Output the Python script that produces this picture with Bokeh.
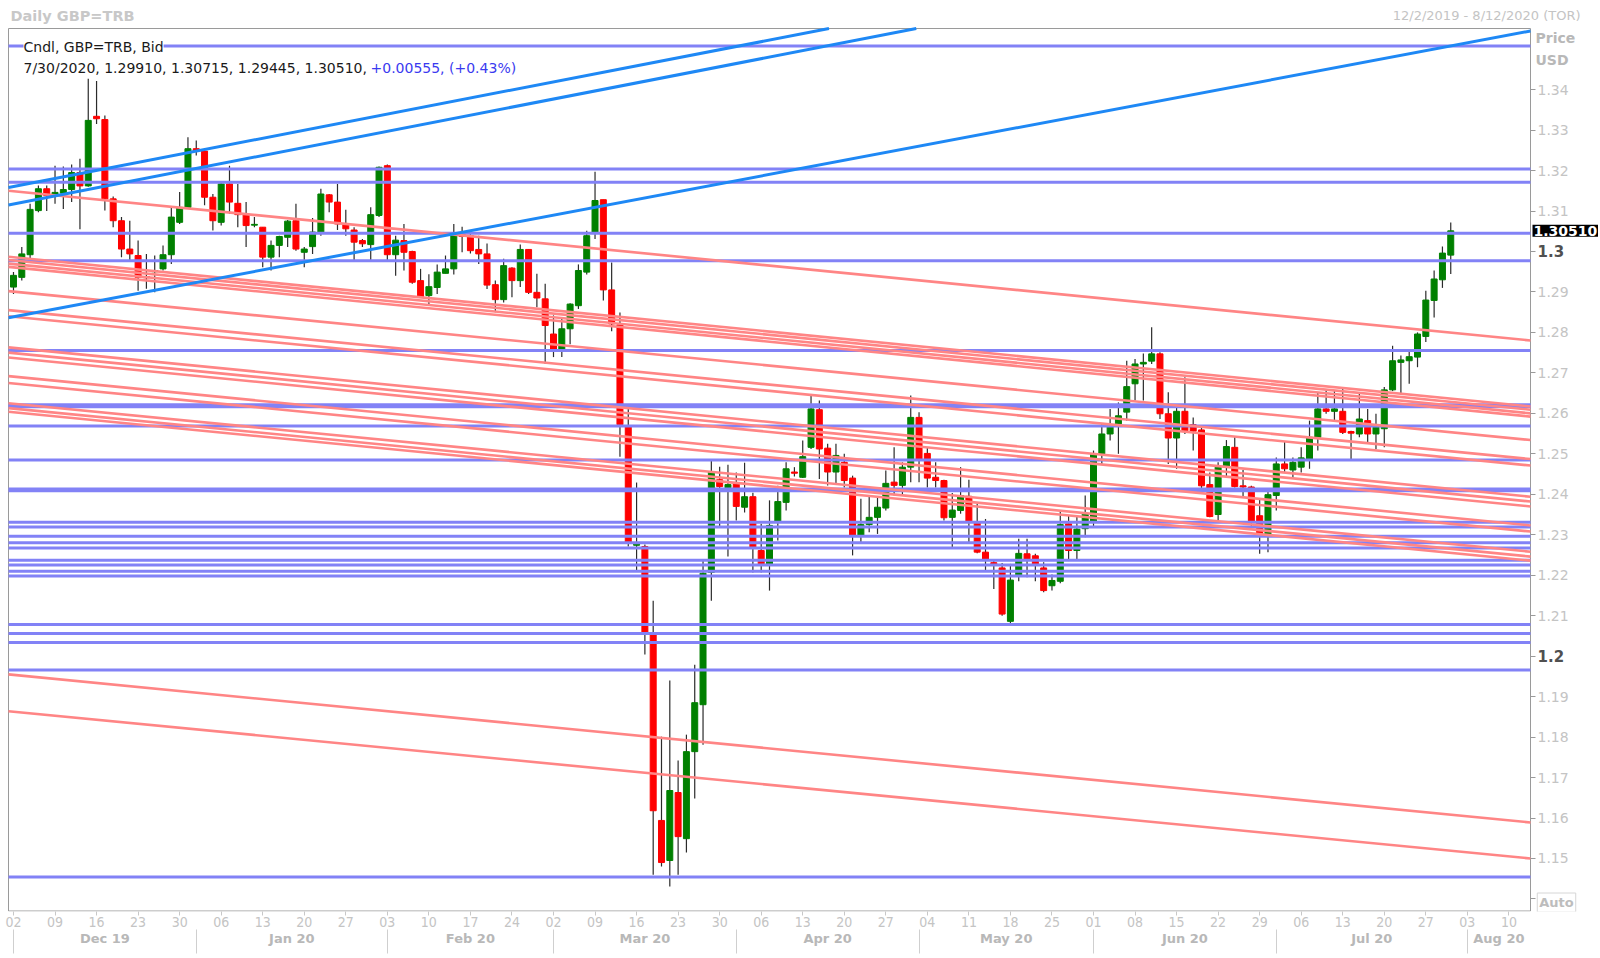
from bokeh.plotting import figure
from bokeh.models import Range1d, FixedTicker, LinearAxis, Label, ColumnDataSource
from bokeh.embed import file_html
from bokeh.resources import INLINE

# ---------------- data (daily GBP=TRB, 2 Dec 2019 .. 30 Jul 2020, one entry per weekday) -------------
opens = [1.2912, 1.2936, 1.2992, 1.3101, 1.3155, 1.3140, 1.3144, 1.3153, 1.3195, 1.3162,
         1.3334, 1.3326, 1.3130, 1.3076, 1.3006, 1.2990, 1.2938, 1.2950, 1.2957, 1.2992,
         1.3072, 1.3109, 1.3254, 1.3248, 1.3134, 1.3072, 1.3167, 1.3119, 1.3093, 1.3065,
         1.3060, 1.2986, 1.3015, 1.3035, 1.3076, 1.2998, 1.3012, 1.3048, 1.3140, 1.3122,
         1.3068, 1.3053, 1.3027, 1.3017, 1.3089, 1.3212, 1.2992, 1.3027, 1.3000, 1.2928,
         1.2891, 1.2911, 1.2946, 1.2957, 1.3043, 1.3039, 1.3005, 1.2994, 1.2918, 1.2881,
         1.2959, 1.2928, 1.3005, 1.2899, 1.2883, 1.2796, 1.2755, 1.2809, 1.2866, 1.2949,
         1.3048, 1.3128, 1.2905, 1.2819, 1.2567, 1.2274, 1.2271, 1.2053, 1.1594, 1.1495,
         1.1663, 1.1549, 1.1764, 1.1880, 1.2207, 1.2436, 1.2416, 1.2429, 1.2368, 1.2394,
         1.2261, 1.2228, 1.2331, 1.2380, 1.2455, 1.2442, 1.2516, 1.2609, 1.2514, 1.2455,
         1.2479, 1.2440, 1.2298, 1.2325, 1.2343, 1.2366, 1.2430, 1.2422, 1.2467, 1.2590,
         1.2501, 1.2442, 1.2434, 1.2343, 1.2360, 1.2395, 1.2331, 1.2257, 1.2231, 1.2218,
         1.2086, 1.2197, 1.2253, 1.2248, 1.2218, 1.2174, 1.2185, 1.2327, 1.2261, 1.2315,
         1.2331, 1.2500, 1.2549, 1.2574, 1.2603, 1.2673, 1.2722, 1.2729, 1.2747, 1.2599,
         1.2539, 1.2605, 1.2572, 1.2559, 1.2424, 1.2350, 1.2467, 1.2516, 1.2421, 1.2418,
         1.2347, 1.2298, 1.2397, 1.2475, 1.2460, 1.2467, 1.2487, 1.2541, 1.2611, 1.2605,
         1.2605, 1.2555, 1.2549, 1.2582, 1.2549, 1.2562, 1.2658, 1.2726, 1.2730, 1.2739,
         1.2790, 1.2879, 1.2930, 1.29910]
highs = [1.2949, 1.3011, 1.3118, 1.3163, 1.3163, 1.3212, 1.3210, 1.3215, 1.3229, 1.3427,
         1.3421, 1.3336, 1.3136, 1.3085, 1.3076, 1.3027, 1.2994, 1.2990, 1.3015, 1.3109,
         1.3147, 1.3282, 1.3274, 1.3256, 1.3142, 1.3169, 1.3212, 1.3167, 1.3122, 1.3085,
         1.3060, 1.3027, 1.3039, 1.3078, 1.3118, 1.3011, 1.3083, 1.3155, 1.3142, 1.3167,
         1.3103, 1.3060, 1.3031, 1.3109, 1.3210, 1.3215, 1.3039, 1.3068, 1.3002, 1.2957,
         1.2944, 1.2968, 1.2990, 1.3068, 1.3061, 1.3052, 1.3039, 1.3020, 1.2928, 1.2982,
         1.2961, 1.3017, 1.3006, 1.2945, 1.2920, 1.2842, 1.2837, 1.2872, 1.2968, 1.3051,
         1.3197, 1.3128, 1.2973, 1.2849, 1.2612, 1.2429, 1.2276, 1.2137, 1.1801, 1.1940,
         1.1742, 1.1806, 1.1979, 1.2236, 1.2483, 1.2468, 1.2473, 1.2454, 1.2478, 1.2404,
         1.2327, 1.2385, 1.2421, 1.2479, 1.2467, 1.2533, 1.2648, 1.2632, 1.2525, 1.2525,
         1.2500, 1.2446, 1.2389, 1.2393, 1.2393, 1.2459, 1.2516, 1.2479, 1.2644, 1.2603,
         1.2516, 1.2479, 1.2436, 1.2403, 1.2467, 1.2436, 1.2376, 1.2339, 1.2240, 1.2230,
         1.2228, 1.2290, 1.2290, 1.2253, 1.2232, 1.2202, 1.2360, 1.2347, 1.2347, 1.2397,
         1.2508, 1.2574, 1.2611, 1.2627, 1.2730, 1.2734, 1.2748, 1.2813, 1.2751, 1.2652,
         1.2615, 1.2689, 1.2590, 1.2566, 1.2454, 1.2479, 1.2534, 1.2542, 1.2460, 1.2421,
         1.2388, 1.2409, 1.2491, 1.2531, 1.2491, 1.2516, 1.2582, 1.2652, 1.2656, 1.2656,
         1.2664, 1.2557, 1.2652, 1.2611, 1.2599, 1.2665, 1.2767, 1.2743, 1.2759, 1.2800,
         1.2903, 1.2953, 1.3012, 1.30715]
lows = [1.2895, 1.2928, 1.2982, 1.3097, 1.3100, 1.3118, 1.3105, 1.3122, 1.3055, 1.3160,
        1.3315, 1.3101, 1.3060, 1.2986, 1.2978, 1.2903, 1.2908, 1.2899, 1.2953, 1.2969,
        1.3068, 1.3105, 1.3237, 1.3114, 1.3052, 1.3064, 1.3093, 1.3060, 1.3011, 1.3060,
        1.2961, 1.2953, 1.2986, 1.3011, 1.3002, 1.2961, 1.2994, 1.3039, 1.3097, 1.3053,
        1.3039, 1.2978, 1.3011, 1.2978, 1.3085, 1.2978, 1.2940, 1.2953, 1.2920, 1.2887,
        1.2870, 1.2895, 1.2946, 1.2943, 1.2998, 1.2995, 1.2969, 1.2907, 1.2850, 1.2874,
        1.2887, 1.2912, 1.2895, 1.2862, 1.2722, 1.2739, 1.2739, 1.2771, 1.2858, 1.2943,
        1.3031, 1.2879, 1.2803, 1.2493, 1.2271, 1.2211, 1.2004, 1.1460, 1.1480, 1.1431,
        1.1460, 1.1515, 1.1648, 1.1781, 1.2137, 1.2320, 1.2246, 1.2335, 1.2355, 1.2207,
        1.2207, 1.2162, 1.2286, 1.2360, 1.2444, 1.2440, 1.2512, 1.2438, 1.2422, 1.2426,
        1.2417, 1.2249, 1.2281, 1.2306, 1.2302, 1.2360, 1.2397, 1.2397, 1.2430, 1.2430,
        1.2417, 1.2417, 1.2335, 1.2269, 1.2352, 1.2282, 1.2254, 1.2212, 1.2166, 1.2100,
        1.2078, 1.2185, 1.2195, 1.2185, 1.2158, 1.2162, 1.2180, 1.2235, 1.2237, 1.2294,
        1.2319, 1.2475, 1.2533, 1.2500, 1.2582, 1.2632, 1.2632, 1.2722, 1.2586, 1.2475,
        1.2463, 1.2549, 1.2508, 1.2413, 1.2343, 1.2335, 1.2442, 1.2417, 1.2393, 1.2318,
        1.2253, 1.2257, 1.2360, 1.2455, 1.2438, 1.2454, 1.2463, 1.2508, 1.2599, 1.2582,
        1.2549, 1.2487, 1.2541, 1.2525, 1.2512, 1.2516, 1.2655, 1.2650, 1.2673, 1.2714,
        1.2776, 1.2837, 1.2910, 1.29445]
closes = [1.2941, 1.2994, 1.3104, 1.3155, 1.3138, 1.3146, 1.3153, 1.3195, 1.3162, 1.3324,
          1.3328, 1.3130, 1.3076, 1.3006, 1.2994, 1.2936, 1.2935, 1.2953, 1.2992, 1.3085,
          1.3109, 1.3254, 1.3248, 1.3134, 1.3076, 1.3167, 1.3122, 1.3091, 1.3064, 1.3067,
          1.2986, 1.3015, 1.3037, 1.3075, 1.3006, 1.3006, 1.3048, 1.3142, 1.3122, 1.3068,
          1.3056, 1.3023, 1.3019, 1.3091, 1.3208, 1.2992, 1.3028, 1.2998, 1.2924, 1.2888,
          1.2913, 1.2949, 1.2957, 1.3043, 1.3037, 1.3002, 1.2994, 1.2917, 1.2881, 1.2965,
          1.2928, 1.3005, 1.2899, 1.2885, 1.2817, 1.2755, 1.2809, 1.2870, 1.2953, 1.3039,
          1.3126, 1.2905, 1.2821, 1.2572, 1.2281, 1.2278, 1.2058, 1.1618, 1.1490, 1.1668,
          1.1554, 1.1764, 1.1885, 1.2205, 1.2456, 1.2419, 1.2424, 1.2370, 1.2394, 1.2269,
          1.2228, 1.2323, 1.2382, 1.2463, 1.2452, 1.2493, 1.2611, 1.2512, 1.2455, 1.2496,
          1.2434, 1.2298, 1.2325, 1.2343, 1.2368, 1.2427, 1.2422, 1.2467, 1.2590, 1.2487,
          1.2440, 1.2434, 1.2342, 1.2361, 1.2397, 1.2331, 1.2257, 1.2238, 1.2226, 1.2104,
          1.2188, 1.2254, 1.2238, 1.2224, 1.2162, 1.2187, 1.2325, 1.2261, 1.2314, 1.2351,
          1.2500, 1.2549, 1.2570, 1.2594, 1.2666, 1.2722, 1.2726, 1.2747, 1.2599, 1.2539,
          1.2605, 1.2557, 1.2556, 1.2421, 1.2345, 1.2467, 1.2518, 1.2419, 1.2418, 1.2333,
          1.2298, 1.2399, 1.2475, 1.2463, 1.2479, 1.2490, 1.2541, 1.2611, 1.2605, 1.2611,
          1.2553, 1.2551, 1.2586, 1.2549, 1.2566, 1.2658, 1.2730, 1.2732, 1.2740, 1.2796,
          1.2880, 1.2932, 1.2996, 1.30510]

# horizontal support / resistance levels (blue)
blue_levels = [1.3508, 1.3204, 1.3171, 1.3045, 1.2977, 1.2755, 1.2621, 1.2616, 1.2569,
               1.2485, 1.2413, 1.2409, 1.2331, 1.2319, 1.2296, 1.2280, 1.2267, 1.2237,
               1.2225, 1.2210, 1.2198, 1.2078, 1.2056, 1.2034, 1.1966, 1.1454]

# falling channel lines (red): value at left edge and at right edge of the chart
red_left = [1.3150, 1.2987, 1.2979, 1.2970, 1.2962, 1.2902, 1.2855, 1.2840, 1.2763,
            1.2750, 1.2738, 1.2692, 1.2675, 1.2625, 1.2613, 1.2604, 1.1955, 1.1864]
red_right = [1.2780, 1.2617, 1.2609, 1.2600, 1.2592, 1.2534, 1.2487, 1.2471, 1.2394,
             1.2382, 1.2370, 1.2323, 1.2308, 1.2258, 1.2246, 1.2236, 1.1589, 1.1500]

# rising trend lines (bright blue): value at left edge and at right edge
trend_left = [1.3158, 1.3115, 1.2836]
trend_right = [1.3887, 1.3846, 1.3545]

price_ticks = [1.14, 1.15, 1.16, 1.17, 1.18, 1.19, 1.20, 1.21, 1.22, 1.23, 1.24,
               1.25, 1.26, 1.27, 1.28, 1.29, 1.30, 1.31, 1.32, 1.33, 1.34]
price_labels = ["", "1.15", "1.16", "1.17", "1.18", "1.19", "", "1.21", "1.22", "1.23", "1.24",
                "1.25", "1.26", "1.27", "1.28", "1.29", "", "1.31", "1.32", "1.33", "1.34"]
bold_ticks = [1.30, 1.20]
bold_labels = ["1.3", "1.2"]
last_close_label = "1.30510"

week_ticks = list(range(0, 181, 5))
week_labels = ["02", "09", "16", "23", "30", "06", "13", "20", "27", "03", "10", "17", "24",
               "02", "09", "16", "23", "30", "06", "13", "20", "27", "04", "11", "18", "25",
               "01", "08", "15", "22", "29", "06", "13", "20", "27", "03", "10"]
month_names = ["Dec 19", "Jan 20", "Feb 20", "Mar 20", "Apr 20", "May 20", "Jun 20", "Jul 20", "Aug 20"]
month_starts = [0, 22, 45, 65, 87, 109, 130, 152, 175]

# chart area (the framed price panel)
X0, X1 = -0.6, 182.6
Y0, Y1 = 1.1369, 1.3551

# ---------------- geometry -------------
PXX = 1522 / (X1 - X0)      # px per day
PXY = 883 / (Y1 - Y0)       # px per price unit
PANEL_L, PANEL_T, PANEL_R = 8, 28, 1530     # price panel position on the page (px)
PAGE_W, PAGE_BOTTOM = 1598, 911             # drawing area used for panel + header + price scale
XR0 = X0 - PANEL_L / PXX
XR1 = X1 + (PAGE_W - PANEL_R) / PXX
YR1 = Y1 + PANEL_T / PXY

def px(xpix):       # page x -> data x (for text placement)
    return XR0 + xpix / PXX

def py(ypix):       # page y -> data y (for text placement)
    return YR1 - ypix / PXY

p = figure(frame_width=PAGE_W, frame_height=PAGE_BOTTOM,
           x_range=Range1d(XR0, XR1), y_range=Range1d(Y0, YR1),
           y_axis_location="right", output_backend="svg", toolbar_location=None,
           min_border_left=0, min_border_top=0, min_border_right=0, min_border_bottom=45,
           background_fill_color="white", border_fill_color="white")
p.title = None
p.outline_line_color = None
p.xgrid.grid_line_color = None
p.ygrid.grid_line_color = None

# panel frame
p.quad(left=[X0], right=[X1], bottom=[Y0 + 0.5 / PXY], top=[Y1], fill_color=None,
       line_color="#9a9a9a", line_width=1)

GREEN = "#008000"
RED = "#ff0000"
idx = list(range(len(opens)))
src = ColumnDataSource(dict(
    x=idx, o=opens, h=highs, l=lows, c=closes,
    top=[max(a, b) for a, b in zip(opens, closes)],
    bot=[min(a, b) for a, b in zip(opens, closes)],
    col=[GREEN if c >= o else RED for o, c in zip(opens, closes)],
))
p.segment(x0="x", y0="l", x1="x", y1="h", source=src, line_color="#2b2b2b", line_width=1.2)
p.vbar(x="x", width=0.72, top="top", bottom="bot", source=src,
       fill_color="col", line_color="col", line_width=1)

# blue horizontal levels
p.segment(x0=[X0] * len(blue_levels), y0=blue_levels, x1=[X1] * len(blue_levels), y1=blue_levels,
          line_color="#8282f6", line_width=3)
# red falling lines
p.segment(x0=[X0] * len(red_left), y0=red_left, x1=[X1] * len(red_left), y1=red_right,
          line_color="#ff8585", line_width=2.6)
# blue rising trend lines, ending where they leave the top of the panel
tx1, ty1 = [], []
for a, b in zip(trend_left, trend_right):
    if b > Y1:
        tx1.append(X0 + (Y1 - a) / (b - a) * (X1 - X0))
        ty1.append(Y1)
    else:
        tx1.append(X1)
        ty1.append(b)
p.segment(x0=[X0] * len(trend_left), y0=trend_left, x1=tx1, y1=ty1,
          line_color="#1e88f5", line_width=3)

# ---------------- axes -------------
FONT = "DejaVu Sans"

def style_axis(ax, tick_color=None, tick_out=0, standoff=0, color="#c4c4c4", size="14px",
               bold=False, font=FONT):
    ax.axis_line_color = None
    ax.major_tick_line_color = tick_color
    ax.major_tick_out = tick_out
    ax.major_tick_in = 0
    ax.minor_tick_line_color = None
    ax.minor_tick_out = 0
    ax.minor_tick_in = 0
    ax.major_label_standoff = standoff
    ax.major_label_text_font = font
    ax.major_label_text_font_size = size
    ax.major_label_text_color = color
    ax.major_label_text_font_style = "bold" if bold else "normal"

# price scale, drawn along the right edge of the panel
yax = p.yaxis[0]
yax.fixed_location = X1
yax.ticker = FixedTicker(ticks=price_ticks)
yax.major_label_overrides = {t: s for t, s in zip(price_ticks, price_labels)}
style_axis(yax, tick_color="#9a9a9a", tick_out=5, standoff=2)

# date scale
xax = p.xaxis[0]
xax.ticker = FixedTicker(ticks=week_ticks)
xax.major_label_overrides = {t: s for t, s in zip(week_ticks, week_labels)}
style_axis(xax, tick_color="#c8c8c8", tick_out=4, standoff=1,
           font="'Liberation Sans Narrow', 'DejaVu Sans Condensed', 'Liberation Sans', sans-serif")

month_ends = month_starts[1:] + [X1]
month_centers = [(a + b) / 2 for a, b in zip(month_starts, month_ends)]
max_ = LinearAxis(ticker=FixedTicker(ticks=month_centers, minor_ticks=month_starts))
max_.major_label_overrides = {t: s for t, s in zip(month_centers, month_names)}
style_axis(max_, standoff=-23, color="#b8b8b8", size="13px", bold=True)
max_.minor_tick_line_color = "#cfcfcf"
max_.minor_tick_out = 24
p.add_layout(max_, "below")

# ---------------- texts -------------
def lab(x, y, text, **kw):
    base = dict(x=x, y=y, text=text, text_font=FONT, text_font_size="14px",
                text_baseline="middle", text_align="left")
    base.update(kw)
    lbl = Label(**base)
    p.add_layout(lbl)
    return lbl

# header
lab(px(10), py(15), "Daily GBP=TRB", text_font_style="bold", text_color="#c8c8c8",
    text_font_size="14.5px")
lab(px(1580), py(15), "12/2/2019 - 8/12/2020 (TOR)", text_align="right", text_color="#c4c4c4",
    text_font_size="13px")
# legend lines inside the panel
lab(px(23), py(46), "Cndl, GBP=TRB, Bid", text_color="#1a1a1a", background_fill_color="white")
lab(px(23), py(67.4), "7/30/2020, 1.29910, 1.30715, 1.29445, 1.30510, ", text_color="#1a1a1a")
lab(px(370), py(67.4), "+0.00555, (+0.43%)", text_color="#3a3af0")
# price scale extras
lab(px(1535), py(37.8), "Price", text_font_style="bold", text_color="#b8b8b8")
lab(px(1535), py(59.2), "USD", text_font_style="bold", text_color="#b8b8b8")
for v, s in zip(bold_ticks, bold_labels):
    lab(px(1537), v, s, text_font_style="bold", text_color="#505050", text_font_size="15px")
box = lab(px(1532), closes[-1], last_close_label, text_font_style="bold", text_color="white",
          background_fill_color="black", text_font_size="14px")
if hasattr(box, "padding"):
    box.padding = 1
auto = lab(px(1556), py(902), "Auto", text_align="center", text_font_style="bold",
           text_color="#bdbdbd", border_line_color="#d6d6d6", background_fill_color="white",
           text_font_size="13px")
if hasattr(auto, "padding"):
    auto.padding = 2

open("out.html", "w").write(file_html(p, INLINE))
